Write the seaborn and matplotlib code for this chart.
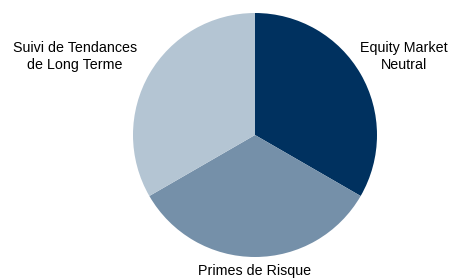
import matplotlib
matplotlib.use("Agg")
import matplotlib.pyplot as plt
import seaborn as sns

categories = ["Equity Market\nNeutral", "Primes de Risque", "Suivi de Tendances\nde Long Terme"]
values = [1, 1, 1]
colors = ["#00315F", "#7590A9", "#B4C5D3"]

sns.set_theme(style="white")
plt.rcParams["font.family"] = ["Liberation Sans", "DejaVu Sans"]

fig = plt.figure(figsize=(4.58, 2.79), dpi=100)
ax = fig.add_axes([133 / 458, 22 / 279, 244 / 458, 244 / 279])

ax.pie(values, colors=colors, startangle=90, counterclock=False, radius=1,
       wedgeprops=dict(linewidth=0))
ax.set_xlim(-1, 1)
ax.set_ylim(-1, 1)
ax.set_aspect("equal")
ax.axis("off")

# label positions in data units (pie radius = 1)
label_pos = [(1.22, 0.645), (0.0, -1.115), (-1.475, 0.645)]
for text, (x, y) in zip(categories, label_pos):
    ax.text(x, y, text, ha="center", va="center", fontsize=10.3,
            color="#000000", linespacing=1.25)

fig.savefig("out.png", dpi=100, facecolor="white")
